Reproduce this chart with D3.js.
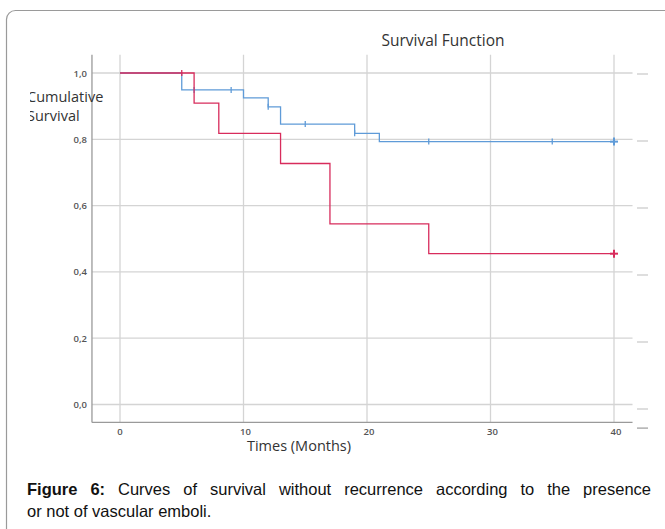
<html>
<head>
<meta charset="utf-8">
<title>Survival Function</title>
<style>
  body { margin: 0; background: #fff; }
  #container { position: relative; width: 665px; height: 529px; overflow: hidden; }
  .cap {
    position: absolute; left: 27px; width: 624px;
    font-family: "Liberation Sans", Arial, sans-serif; font-size: 16.5px; line-height: 22px;
    color: #111; white-space: nowrap;
  }
  #cap1 { top: 478px; text-align: justify; text-align-last: justify; white-space: normal; }
  #cap2 { top: 500px; }
</style>
</head>
<body>
<div id="container"></div>
<script src="https://cdn.jsdelivr.net/npm/d3@7"></script>
<script>
// Kaplan-Meier steps
var redTimes = [0, 6, 8, 13, 17, 25, 40];
var redSurv  = [1.0, 0.909, 0.818, 0.727, 0.545, 0.455, 0.455];
var redCensorT = [5, 40];

var blueTimes = [0, 5, 10, 12, 13, 19, 21, 40];
var blueSurv  = [1.0, 0.949, 0.925, 0.898, 0.846, 0.818, 0.793, 0.793];
var blueCensorT = [6, 9, 12, 15, 19, 25, 35, 40];

var xTicks = [0, 10, 20, 30, 40];
var yTicks = [0, 0.2, 0.4, 0.6, 0.8, 1.0];

var captionLines = [
  "Curves of survival without recurrence according to the presence",
  "or not of vascular emboli."
];

function main() {
  var width = 665, height = 529;
  var svg = d3.select("#container").append("svg")
    .attr("width", width)
    .attr("height", height)
    .style("position", "absolute").style("left", 0).style("top", 0);

  var x = d3.scaleLinear().domain([0, 40]).range([120, 614]);
  var y = d3.scaleLinear().domain([0, 1]).range([404.5, 73]);
  // the faint marks at the right sit on a slightly different scale
  var y2 = d3.scaleLinear().domain([0, 1]).range([409, 74]);

  var redColor = "#d82c5c";
  var blueColor = "#5f9bd8";
  var font = "'Open Sans', 'DejaVu Sans', sans-serif";

  // frame
  svg.append("rect")
    .attr("x", 6.5).attr("y", 10.5)
    .attr("width", 720).attr("height", 600)
    .attr("rx", 9)
    .attr("fill", "none")
    .attr("stroke", "#9a9a9a")
    .attr("stroke-width", 1.2);

  var xLeft = x(-2.27), xRight = x(41.5);
  var yTop = y(1.055), yBottom = y(-0.054);

  var g = svg.append("g");

  // horizontal grid
  g.selectAll(".hgrid").data(yTicks).enter().append("line")
    .attr("x1", xLeft).attr("x2", xRight)
    .attr("y1", function(d) { return y(d); })
    .attr("y2", function(d) { return y(d); })
    .attr("stroke", "#d4d4d4").attr("stroke-width", 1.3);

  // vertical grid
  g.selectAll(".vgrid").data(xTicks).enter().append("line")
    .attr("x1", function(d) { return x(d); })
    .attr("x2", function(d) { return x(d); })
    .attr("y1", yTop).attr("y2", yBottom)
    .attr("stroke", "#d4d4d4").attr("stroke-width", 1.3);

  // axis lines
  g.append("line")
    .attr("x1", xLeft).attr("x2", xLeft)
    .attr("y1", yTop).attr("y2", yBottom)
    .attr("stroke", "#9a9a9a").attr("stroke-width", 1.3);
  g.append("line")
    .attr("x1", xLeft).attr("x2", xRight)
    .attr("y1", yBottom).attr("y2", yBottom)
    .attr("stroke", "#9a9a9a").attr("stroke-width", 1.3);

  // little dashes on the right
  g.selectAll(".rdash").data(yTicks.concat([-0.057])).enter().append("line")
    .attr("x1", 637).attr("x2", 648)
    .attr("y1", function(d) { return y2(d); })
    .attr("y2", function(d) { return y2(d); })
    .attr("stroke", function(d) { return d < 0 ? "#9a9a9a" : "#c8c8c8"; })
    .attr("stroke-width", 1.2);

  // y tick labels
  g.selectAll(".ylab").data(yTicks).enter().append("text")
    .attr("x", 87)
    .attr("y", function(d) { return y(d) + 3.5; })
    .attr("text-anchor", "end")
    .attr("font-family", font).attr("font-size", "9.5px").attr("font-weight", 600)
    .attr("fill", "#555")
    .text(function(d) { return d3.format(".1f")(d).replace(".", ","); });

  // x tick labels
  g.selectAll(".xlab").data(xTicks).enter().append("text")
    .attr("x", function(d) { return x(d) + (d === 0 ? 0 : 2); })
    .attr("y", 435)
    .attr("text-anchor", "middle")
    .attr("font-family", font).attr("font-size", "9.5px").attr("font-weight", 600)
    .attr("fill", "#555")
    .text(function(d) { return d; });

  // titles
  svg.append("text")
    .attr("x", 443).attr("y", 46)
    .attr("text-anchor", "middle")
    .attr("font-family", font).attr("font-size", "15.5px")
    .attr("fill", "#333")
    .text("Survival Function");

  svg.append("text")
    .attr("x", 299).attr("y", 451)
    .attr("text-anchor", "middle")
    .attr("font-family", font).attr("font-size", "14.5px")
    .attr("fill", "#333")
    .text("Times (Months)");

  svg.append("clipPath").attr("id", "ylabclip")
    .append("rect").attr("x", 30).attr("y", 80).attr("width", 100).attr("height", 60);
  var ylab = svg.append("text")
    .attr("clip-path", "url(#ylabclip)")
    .attr("font-family", font).attr("font-size", "14.5px")
    .attr("fill", "#333");
  ylab.append("tspan").attr("x", 27).attr("y", 102).text("Cumulative");
  ylab.append("tspan").attr("x", 27).attr("y", 121).text("Survival");

  // survival curves
  function steps(times, surv) {
    return times.map(function(t, i) { return [t, surv[i]]; });
  }
  var line = d3.line()
    .x(function(d) { return x(d[0]); })
    .y(function(d) { return y(d[1]); })
    .curve(d3.curveStepAfter);

  function survAt(times, surv, t) {
    var v = surv[0];
    for (var i = 0; i < times.length; i++) {
      if (times[i] <= t) v = surv[i];
    }
    return v;
  }

  function drawCurve(times, surv, censors, color) {
    g.append("path")
      .datum(steps(times, surv))
      .attr("d", line)
      .attr("fill", "none")
      .attr("stroke", color)
      .attr("stroke-width", 1.3);
    g.selectAll(null).data(censors).enter().append("line")
      .attr("x1", function(d) { return x(d); })
      .attr("x2", function(d) { return x(d); })
      .attr("y1", function(d) { return y(survAt(times, surv, d)) - (d === 40 ? 4 : 3); })
      .attr("y2", function(d) { return y(survAt(times, surv, d)) + (d === 40 ? 4 : 3); })
      .attr("stroke", color)
      .attr("stroke-width", function(d) { return d === 40 ? 2 : 1.3; });
    g.selectAll(null).data(censors.filter(function(d) { return d === 40; })).enter().append("line")
      .attr("x1", function(d) { return x(d) - 4; })
      .attr("x2", function(d) { return x(d) + 4; })
      .attr("y1", function(d) { return y(survAt(times, surv, d)); })
      .attr("y2", function(d) { return y(survAt(times, surv, d)); })
      .attr("stroke", color)
      .attr("stroke-width", 2);
  }

  drawCurve(blueTimes, blueSurv, blueCensorT, blueColor);
  drawCurve(redTimes, redSurv, redCensorT, redColor);

  // caption, first line justified to the full width
  var container = d3.select("#container");
  var cap1 = container.append("div").attr("class", "cap").attr("id", "cap1");
  cap1.append("b").text("Figure 6:");
  cap1.append("span").text(" " + captionLines[0]);
  container.append("div").attr("class", "cap").attr("id", "cap2").text(captionLines[1]);
}

window.onload = main;
</script>
</body>
</html>
